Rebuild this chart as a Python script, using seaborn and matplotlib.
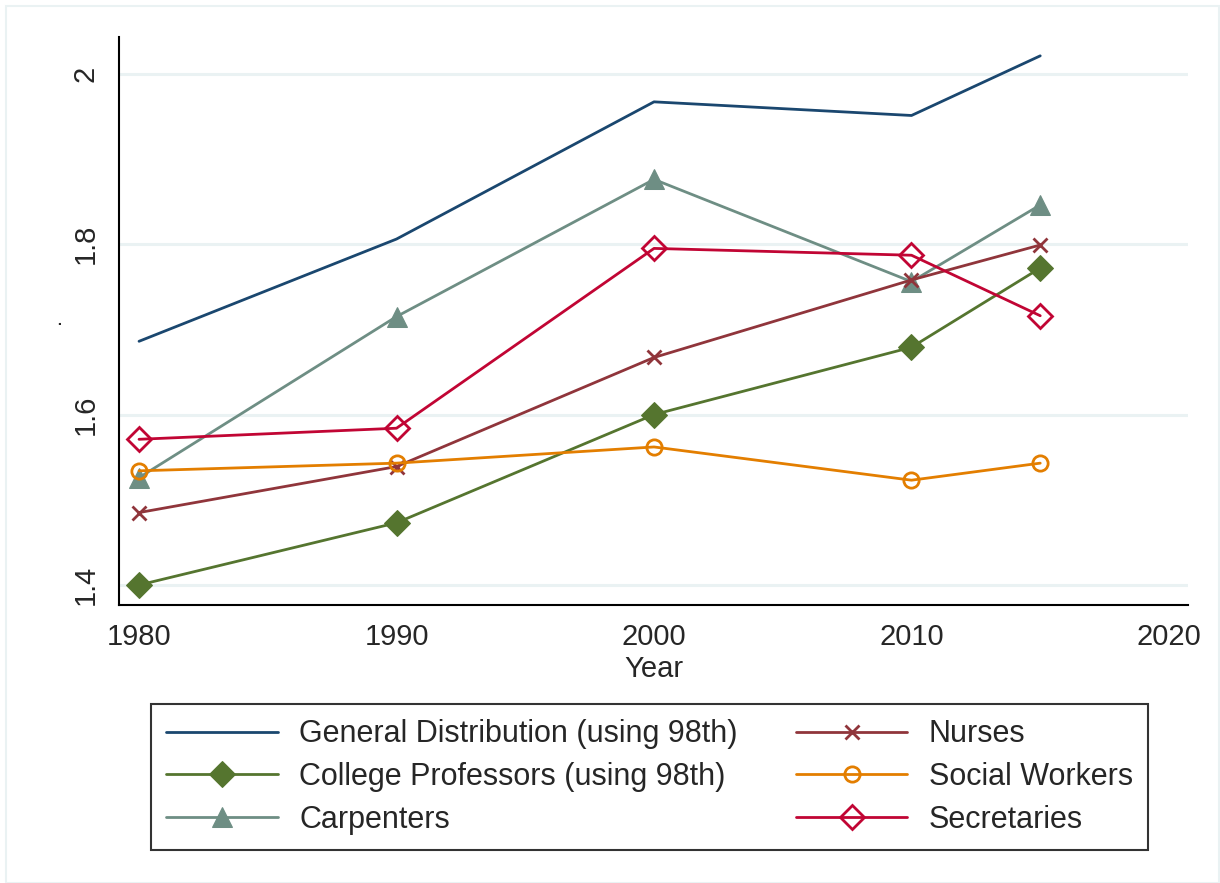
import pandas as pd
import numpy as np
import matplotlib
matplotlib.use("Agg")
import matplotlib.pyplot as plt
import seaborn as sns
from matplotlib.patches import Rectangle

# data
years = [1980, 1990, 2000, 2010, 2015]
general = [1.686, 1.806, 1.967, 1.951, 2.021]
professors = [1.400, 1.473, 1.600, 1.679, 1.772]
carpenters = [1.526, 1.715, 1.876, 1.756, 1.846]
nurses = [1.485, 1.539, 1.667, 1.758, 1.799]
social_workers = [1.534, 1.543, 1.562, 1.523, 1.543]
secretaries = [1.571, 1.584, 1.795, 1.787, 1.716]

series_names = ["General Distribution (using 98th)", "College Professors (using 98th)",
                "Carpenters", "Nurses", "Social Workers", "Secretaries"]
series_vals = [general, professors, carpenters, nurses, social_workers, secretaries]

dados = pd.DataFrame({
    "Year": years * len(series_names),
    "valor": np.concatenate(series_vals),
    "serie": np.repeat(series_names, len(years)),
})

sns.set_style("white")
plt.rcParams["font.family"] = ["Liberation Sans", "DejaVu Sans"]

# stata s2color look
cores = ["#1a476f", "#55752f", "#6e8e84", "#90353b", "#e37e00", "#c10534"]
estilos = [
    dict(marker=None),
    dict(marker="D", markersize=13, markerfacecolor=cores[1]),
    dict(marker="^", markersize=14, markerfacecolor=cores[2]),
    dict(marker="x", markersize=10, markeredgewidth=2),
    dict(marker="o", markersize=11, markerfacecolor="none", markeredgewidth=2),
    dict(marker="D", markersize=12, markerfacecolor="none", markeredgewidth=2),
]

fig = plt.figure(figsize=(12.2, 8.83), dpi=100)
ax = fig.add_axes([0.0975, 0.3148, 0.8763, 0.6432])

# grid lines
for v in [1.4, 1.6, 1.8, 2.0]:
    ax.axhline(v, color="#eaf2f3", lw=2.2, zorder=0)

for nome, cor, est in zip(series_names, cores, estilos):
    sub = dados[dados["serie"] == nome]
    sns.lineplot(data=sub, x="Year", y="valor", color=cor, lw=2, label=nome,
                 ax=ax, zorder=3, markeredgecolor=cor, **est)

ax.set_xlim(1979.22, 2020.74)
ax.set_ylim(1.3765, 2.043)
ax.set_xticks([1980, 1990, 2000, 2010, 2020])
ax.set_yticks([1.4, 1.6, 1.8, 2.0])
ax.set_yticklabels(["1.4", "1.6", "1.8", "2"], rotation=90, va="center")
ax.tick_params(axis="both", labelsize=21, length=8, width=1.3, color="black", direction="out")
ax.tick_params(axis="y", pad=6)
ax.tick_params(axis="x", pad=5)
for s in ["top", "right"]:
    ax.spines[s].set_visible(False)
for s in ["left", "bottom"]:
    ax.spines[s].set_linewidth(1.5)
    ax.spines[s].set_color("black")

ax.set_xlabel("Year", fontsize=21, labelpad=3)
ax.set_ylabel(".", fontsize=16, labelpad=5)

handles, labels = ax.get_legend_handles_labels()
ax.get_legend().remove()
leg = fig.legend(handles, labels, ncol=2, loc="upper left",
                 bbox_to_anchor=(0.1238, 0.2027), fontsize=22, frameon=True,
                 fancybox=False, handlelength=3.65, handletextpad=0.7,
                 columnspacing=1.9, labelspacing=0.42, borderpad=0.5,
                 borderaxespad=0)
leg.get_frame().set_edgecolor("black")
leg.get_frame().set_linewidth(1.5)

# faint outer frame
fig.patches.append(Rectangle((0.005, 0.0), 0.994, 0.993, transform=fig.transFigure,
                             fill=False, edgecolor="#eaf2f3", lw=1.5))

fig.savefig("out.png", dpi=100)
